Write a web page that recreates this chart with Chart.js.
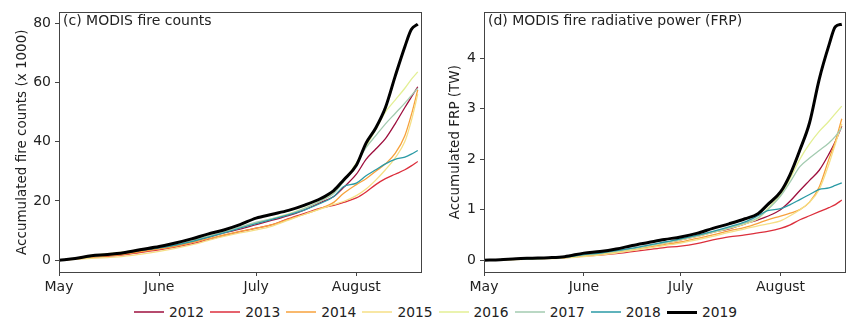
<!DOCTYPE html>
<html>
<head>
<meta charset="utf-8">
<script src="https://cdn.jsdelivr.net/npm/chart.js@4"></script>
<style>
  html, body { margin: 0; padding: 0; background: #fff; }
  body { width: 850px; height: 329px; position: relative; overflow: hidden; font-family: "DejaVu Sans", sans-serif; color: #222; }
  .panel { position: absolute; top: 0; height: 294px; }
  .ptitle { position: absolute; top: 11px; font-size: 14px; line-height: 18px; white-space: nowrap; color: #222; }
  #legend { position: absolute; top: 303px; left: 134px; display: flex; align-items: center; font-size: 13.8px; line-height: 18px; }
  .item { display: flex; align-items: center; margin-right: 6px; }
  .swatch { display: inline-block; width: 30px; margin-right: 5px; }
</style>
</head>
<body>
<div class="panel" id="p1" style="left:0;width:430px;"><canvas id="c1"></canvas></div>
<div class="panel" id="p2" style="left:430px;width:420px;"><canvas id="c2"></canvas></div>
<div class="ptitle" style="left:63px;">(c) MODIS fire counts</div>
<div class="ptitle" style="left:488px;">(d) MODIS fire radiative power (FRP)</div>
<div id="legend"></div>
<script>
// ---- data ----
const years = ['2012','2013','2014','2015','2016','2017','2018','2019'];
// day offset from May 1
const days = [0,5,10,15,20,25,31,36,41,46,51,56,61,66,71,76,81,85,88,92,95,98,101,104,107,109,111];
const monthTicks = [0,31,61,92];
const monthLabels = ['May','June','July','August'];
const countTicks = [0,20,40,60,80];
const frpTicks = [0,1,2,3,4];

// accumulated fire counts (x 1000)
const counts2012 = [0,0.5,1.2,1.7,2.3,3.1,4.1,5.0,6.3,7.7,9.2,10.5,12,13.5,15,17,19.5,21.5,24.5,29,34,37.5,41,46,51.5,55,58.5];
const counts2013 = [0,0.4,0.9,1.3,1.8,2.6,3.5,4.4,5.5,6.9,8.3,9.6,10.8,12,14,15.8,17.6,18.5,19.5,21,23,25.5,27.5,29,30.5,31.8,33.3];
const counts2014 = [0,0.4,1.0,1.5,2.0,2.8,3.8,4.7,5.9,7.2,8.5,9.7,10.8,12,13.8,15.5,17.5,19.5,22.5,25.5,27.5,30,32.5,36,42,49,57.5];
const counts2015 = [0,0.3,0.6,0.9,1.3,2.0,3.0,4.0,5.2,6.6,8.0,9.2,10.2,11.5,13.5,15.5,17.3,18.8,19.8,21.8,24,27,30.5,34.5,40,47,56];
const counts2016 = [0,0.7,1.6,2.2,2.8,3.6,4.4,5.3,6.6,8.0,9.4,11,12.5,14,15.6,17.6,20,22.8,26.5,32.8,38.5,44,50,54,58,61,63.5];
const counts2017 = [0,0.6,1.4,2.0,2.6,3.4,4.3,5.2,6.5,8.0,9.5,11.2,12.8,14,15.5,17.5,20,22.5,26.5,32.5,38,42,46,49.5,53,55.5,58];
const counts2018 = [0,0.5,1.3,1.9,2.5,3.3,4.2,5.1,6.3,7.7,9.2,10.8,12.3,13.8,15.3,17,19.2,21.5,24.8,26,28.5,30.5,32.5,34,34.8,35.8,37];
const counts2019 = [0,0.6,1.5,1.9,2.5,3.5,4.6,5.8,7.2,8.8,10.2,12,14.2,15.5,16.8,18.6,20.8,23.5,27,32,39.5,44.6,51.5,62,72,77.8,79.6];

// accumulated FRP (TW)
const frp2012 = [0,0.01,0.02,0.03,0.04,0.06,0.1,0.13,0.17,0.22,0.28,0.34,0.4,0.47,0.55,0.62,0.72,0.8,0.87,1.0,1.17,1.38,1.58,1.78,2.1,2.35,2.65];
const frp2013 = [0,0.01,0.02,0.03,0.04,0.05,0.08,0.1,0.13,0.17,0.21,0.25,0.28,0.33,0.4,0.46,0.5,0.54,0.57,0.63,0.7,0.8,0.88,0.96,1.04,1.1,1.19];
const frp2014 = [0,0.01,0.02,0.03,0.04,0.05,0.09,0.12,0.16,0.21,0.26,0.31,0.36,0.43,0.5,0.58,0.65,0.73,0.8,0.87,0.93,1.0,1.15,1.45,2.0,2.35,2.8];
const frp2015 = [0,0.0,0.01,0.02,0.03,0.04,0.07,0.1,0.14,0.19,0.24,0.29,0.34,0.4,0.47,0.55,0.62,0.68,0.72,0.78,0.88,1.0,1.15,1.4,1.9,2.3,2.7];
const frp2016 = [0,0.01,0.02,0.03,0.04,0.06,0.1,0.13,0.17,0.22,0.28,0.34,0.4,0.47,0.55,0.63,0.72,0.82,1.02,1.3,1.62,2.0,2.3,2.55,2.75,2.9,3.05];
const frp2017 = [0,0.01,0.02,0.03,0.04,0.06,0.11,0.14,0.18,0.23,0.29,0.35,0.41,0.48,0.56,0.64,0.74,0.84,1.0,1.27,1.55,1.85,2.02,2.17,2.32,2.45,2.62];
const frp2018 = [0,0.01,0.02,0.03,0.04,0.06,0.11,0.14,0.19,0.24,0.3,0.36,0.42,0.49,0.57,0.66,0.76,0.88,0.98,1.02,1.1,1.2,1.3,1.4,1.43,1.48,1.53];
const frp2019 = [0,0.01,0.03,0.04,0.05,0.07,0.14,0.17,0.22,0.29,0.35,0.41,0.46,0.53,0.63,0.72,0.82,0.92,1.1,1.35,1.7,2.18,2.72,3.58,4.25,4.62,4.67];

const countSeries = [counts2012,counts2013,counts2014,counts2015,counts2016,counts2017,counts2018,counts2019];
const frpSeries = [frp2012,frp2013,frp2014,frp2015,frp2016,frp2017,frp2018,frp2019];

// ---- styles ----
const colors = ['#9e0f3e','#dc2f3c','#f7a13c','#f5df86','#e3ef94','#a3cbb0','#2a9aa5','#000000'];
const widths = [1.3,1.3,1.3,1.3,1.3,1.3,1.3,3];
const AXIS = '#444';
const FONT = { family: 'DejaVu Sans', size: 14 };
const TFONT = { family: 'DejaVu Sans', size: 13.5 };

const boxPlugin = {
  id: 'box',
  afterDatasetsDraw(chart) {
    const a = chart.chartArea, ctx = chart.ctx;
    ctx.save();
    ctx.strokeStyle = AXIS; ctx.lineWidth = 1;
    ctx.strokeRect(Math.round(a.left) + 0.5, Math.round(a.top) + 0.5, Math.round(a.right - a.left), Math.round(a.bottom - a.top));
    ctx.restore();
  }
};

function makeChart(id, series, yMin, yMax, yTicks, yTitle, yWidth, padRight, titlePad) {
  const datasets = series.map((vals, i) => ({
    label: years[i],
    data: days.map((d, k) => ({ x: d, y: vals[k] })),
    borderColor: colors[i],
    borderWidth: widths[i],
    pointRadius: 0,
    fill: false,
    cubicInterpolationMode: 'monotone',
    order: years.length - i
  }));
  return new Chart(document.getElementById(id), {
    type: 'line',
    data: { datasets },
    plugins: [boxPlugin],
    options: {
      responsive: true,
      maintainAspectRatio: false,
      animation: false,
      layout: { padding: { top: 8, right: padRight, left: 0, bottom: 0 } },
      plugins: { legend: { display: false }, tooltip: { enabled: false } },
      scales: {
        x: {
          type: 'linear', min: 0, max: 112,
          afterBuildTicks: s => { s.ticks = monthTicks.map(v => ({ value: v })); },
          afterFit: s => { s.height = 22; },
          ticks: { font: FONT, color: '#222', padding: 3, maxRotation: 0, autoSkip: false,
                   callback: v => monthLabels[monthTicks.indexOf(v)] },
          grid: { drawOnChartArea: false, drawTicks: true, tickLength: 4, color: AXIS },
          border: { display: true, color: AXIS }
        },
        y: {
          type: 'linear', min: yMin, max: yMax,
          afterBuildTicks: s => { s.ticks = yTicks.map(v => ({ value: v })); },
          afterFit: s => { s.width = yWidth; },
          ticks: { font: FONT, color: '#222', padding: 4, callback: v => String(v) },
          grid: { drawOnChartArea: false, drawTicks: true, tickLength: 4, color: AXIS },
          border: { display: true, color: AXIS },
          title: { display: true, text: yTitle, font: TFONT, color: '#222', padding: { top: titlePad, bottom: 0 } }
        }
      }
    }
  });
}

makeChart('c1', countSeries, -3.98, 83.58, countTicks, 'Accumulated fire counts (x 1000)', 59, 9, 14);
makeChart('c2', frpSeries, -0.2335, 4.9035, frpTicks, 'Accumulated FRP (TW)', 54, 5, 17);

// ---- legend ----
const leg = document.getElementById('legend');
years.forEach((y, i) => {
  const it = document.createElement('div'); it.className = 'item';
  const sw = document.createElement('span'); sw.className = 'swatch';
  sw.style.height = (i === 7 ? 3 : 2) + 'px';
  sw.style.background = colors[i];
  sw.style.opacity = i === 7 ? 1 : 0.75;
  const tx = document.createElement('span'); tx.textContent = y;
  it.appendChild(sw); it.appendChild(tx); leg.appendChild(it);
});
</script>
</body>
</html>
